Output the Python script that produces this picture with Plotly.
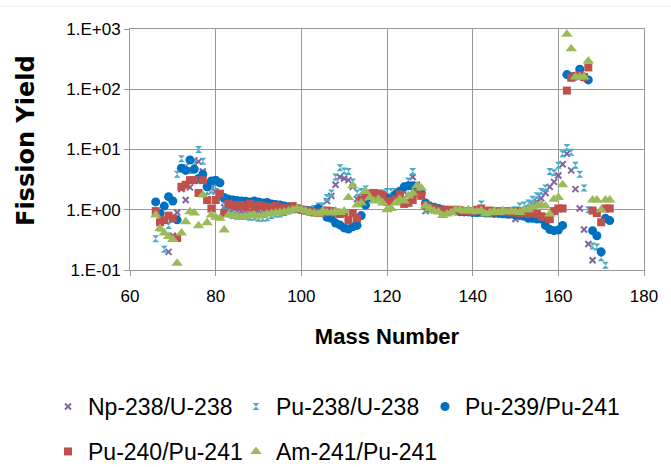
import plotly.graph_objects as go

# ---------------- data ----------------
mass_np = list(range(69, 169))
np238_u238 = [0.2, 0.37, 0.9, 2.2, 1.45, 2.35, 6.6, 6.3, 4.3, 2.8,
              2.3, 2.0, 1.5, 1.1, 1.0, 0.95, 0.95, 0.92, 0.95, 0.95,
              0.95, 0.97, 0.95, 0.97, 1.0, 1.0, 1.0, 1.0, 1.02, 1.05,
              1.02, 1.0, 0.98, 0.95, 0.93, 0.95, 1.0, 1.4, 1.7, 2.6,
              3.5, 3.3, 3.1, 2.4, 1.5, 1.6, 1.7, 1.7, 1.6, 1.6,
              1.7, 1.6, 1.6, 1.7, 1.8, 2.0, 2.5, 3.5, 2.6, 1.8,
              0.95, 1.0, 1.0, 0.98, 0.95, 0.95, 0.97, 0.97, 0.95, 0.95,
              0.93, 0.92, 0.92, 0.9, 0.9, 0.9, 0.88, 0.88, 0.85, 0.85,
              0.8, 0.7, 0.88, 0.95, 1.05, 1.2, 1.35, 1.55, 1.9, 2.4,
              2.9, 3.7, 5.7, 8.5, 4.5, 2.2, 1.05, 0.47, 0.27, 0.145]

mass_pu238 = list(range(66, 172))
pu238_u238 = [0.33, 0.5, 0.22, 0.55, 0.7, 3.9, 7.0, 5.0, 4.5, 6.0,
              10.0, 6.4, 2.0, 2.1, 2.4, 1.6, 1.2, 0.9, 0.8, 0.78,
              0.77, 0.78, 0.75, 0.76, 0.72, 0.72, 0.74, 0.8, 0.85, 0.85,
              0.9, 0.95, 1.0, 1.05, 1.0, 0.98, 1.0, 1.05, 1.15, 1.15,
              1.6, 1.9, 3.5, 5.0, 4.4, 4.3, 2.9, 1.9, 2.0, 2.2,
              1.9, 1.8, 1.8, 1.9, 2.0, 2.0, 2.0, 2.1, 2.3, 3.0,
              4.3, 2.3, 1.8, 1.0, 1.1, 1.05, 1.0, 0.95, 0.95, 1.0,
              1.0, 0.98, 0.97, 0.95, 0.95, 0.95, 1.25, 0.95, 0.93, 0.9,
              0.92, 0.9, 0.9, 0.95, 1.0, 1.15, 1.2, 1.3, 1.5, 1.7,
              2.0, 2.3, 4.3, 4.1, 5.5, 8.5, 10.8, 9.0, 5.5, 3.9,
              2.3, 1.0, 0.25, 0.24, 0.16, 0.12]

mass_pu = list(range(66, 173))
pu239_pu241 = [1.35, 0.87, 1.15, 1.65, 1.4, 0.68, 4.9, 4.5, 6.7, 4.7,
               3.3, 3.9, 2.4, 3.0, 3.1, 2.8, 1.6, 1.5, 1.45, 1.42,
               1.4, 1.38, 1.35, 1.4, 1.35, 1.3, 1.32, 1.25, 1.22, 1.2,
               1.15, 1.12, 1.1, 1.05, 1.0, 0.98, 0.95, 0.93, 1.05, 0.9,
               0.75, 0.72, 0.6, 0.56, 0.5, 0.48, 0.52, 0.55, 0.8, 1.2,
               1.6, 1.8, 1.75, 1.7, 1.55, 1.5, 1.8, 2.0, 2.4, 2.5,
               2.5, 2.2, 1.9, 1.3, 1.15, 1.1, 1.05, 1.0, 0.98, 0.96,
               0.95, 0.93, 0.92, 0.92, 0.9, 0.9, 0.9, 0.88, 0.88, 0.87,
               0.87, 0.86, 0.85, 0.85, 0.82, 0.8, 0.78, 0.72, 0.72, 0.7,
               0.7, 0.55, 0.47, 0.45, 0.46, 0.55, 175, 160, 165, 215,
               160, 143, 0.45, 0.37, 0.2, 0.72, 0.66]

pu240_pu241 = [0.95, 0.62, 0.67, 0.8, 0.72, 0.34, 2.4, 2.6, 3.1, 3.1,
               1.9, 3.1, 1.45, 1.05, 1.45, 1.85, 0.88, 1.25, 1.2, 1.15,
               1.2, 1.1, 1.25, 1.1, 1.2, 1.15, 1.1, 1.1, 1.15, 1.1,
               1.05, 1.05, 1.15, 1.05, 1.0, 0.97, 0.93, 0.9, 0.88, 0.9,
               0.97, 0.95, 0.9, 0.85, 0.88, 0.67, 0.88, 0.72, 1.45, 1.7,
               1.85, 1.9, 1.85, 1.75, 1.35, 1.4, 1.5, 1.8, 1.25, 1.3,
               1.45, 1.9, 1.7, 1.2, 1.1, 1.05, 1.0, 0.95, 1.0, 0.95,
               1.0, 0.98, 0.95, 0.95, 0.93, 1.0, 1.05, 0.95, 0.97, 0.9,
               0.95, 0.92, 0.95, 0.9, 0.95, 0.88, 0.93, 0.85, 0.88, 0.85,
               0.78, 0.75, 0.7, 0.95, 1.05, 1.05, 95, 155, 165, 170,
               160, 230, 0.97, 0.88, 0.62, 1.05, 1.05]

am241_pu241 = [0.82, 0.49, 0.41, 0.36, 0.32, 0.13, 0.41, 0.63, 0.93, 0.88,
               0.54, 1.75, 0.61, 0.82, 0.75, 0.72, 0.46, 0.82, 0.8, 0.78,
               0.75, 0.78, 0.8, 0.82, 0.78, 0.8, 0.85, 0.87, 0.88, 0.9,
               0.92, 0.95, 1.0, 1.05, 1.0, 0.95, 0.9, 0.88, 0.85, 0.95,
               0.9, 0.88, 0.95, 0.9, 0.95, 1.6, 2.5, 1.2, 1.3, 2.0,
               1.6, 1.4, 1.5, 1.3, 1.0, 1.05, 1.3, 1.5, 1.4, 1.7,
               1.9, 2.5, 2.3, 1.15, 1.05, 0.95, 0.92, 0.8, 0.85, 0.9,
               1.0, 1.0, 0.95, 1.0, 0.95, 0.93, 0.97, 0.85, 0.9, 0.95,
               0.9, 0.97, 0.92, 0.95, 0.93, 0.9, 1.0, 1.0, 1.1, 1.15,
               1.2, 1.15, 0.85, 1.5, 1.6, 2.6, 815, 470, 160, 160,
               160, 295, 1.45, 1.45, 1.0, 1.45, 1.45]

series_names = ["Np-238/U-238", "Pu-238/U-238", "Pu-239/Pu-241",
                "Pu-240/Pu-241", "Am-241/Pu-241"]
y_tick_vals = [0.1, 1, 10, 100, 1000]
y_tick_text = ["1.E-01", "1.E+00", "1.E+01", "1.E+02", "1.E+03"]
x_tick_vals = [60, 80, 100, 120, 140, 160, 180]

# ---------------- styles ----------------
PURPLE = "#8064A2"
CYAN = "#4BACC6"
BLUE = "#0070C0"
RED = "#C0504D"
GREEN = "#9BBB59"
GRID = "#999999"
SANS = "Liberation Sans, Arial, sans-serif"
LEG_FONT = dict(family=SANS, size=23, color="#000000")

L, R, T, B = 130, 27, 29, 197
W, H = 671, 467
PW = W - L - R
PH = H - T - B

# legend text start (px) and row top (px) for each series
leg_pos = [(88, 385), (276, 385), (465, 385), (88, 430), (276, 430)]
leg_ids = ["legend", "legend2", "legend3", "legend4", "legend5"]

styles = [
    dict(symbol="x-thin", size=6, color=PURPLE, line=dict(width=2, color=PURPLE)),
    dict(symbol="hourglass", size=7, color=CYAN, line=dict(width=0)),
    dict(symbol="circle", size=9, color=BLUE, line=dict(width=0)),
    dict(symbol="square", size=8, color=RED, line=dict(width=0)),
    dict(symbol="triangle-up", size=10, color=GREEN, line=dict(width=0)),
]
xs = [mass_np, mass_pu238, mass_pu, mass_pu, mass_pu]
ys = [np238_u238, pu238_u238, pu239_pu241, pu240_pu241, am241_pu241]

fig = go.Figure()
for i in range(5):
    fig.add_trace(go.Scatter(x=xs[i], y=ys[i], mode="markers", name=series_names[i],
                             marker=styles[i], legend=leg_ids[i]))

legend_layout = {}
for i in range(5):
    tx, ty = leg_pos[i]
    legend_layout[leg_ids[i]] = dict(
        orientation="h", x=(tx - 40 - L) / PW, xanchor="left",
        y=(270 - ty) / PH, yanchor="top", font=LEG_FONT,
        itemsizing="trace", bgcolor="rgba(0,0,0,0)")

fig.update_layout(
    width=W, height=H,
    margin=dict(l=L, r=R, t=T, b=B, autoexpand=False),
    paper_bgcolor="white", plot_bgcolor="white",
    showlegend=True,
    xaxis=dict(range=[60, 180], tickvals=x_tick_vals, showgrid=True,
               gridcolor=GRID, gridwidth=1, showline=True, linecolor=GRID,
               linewidth=1, mirror=True, ticks="outside", ticklen=5,
               tickcolor=GRID, ticklabelstandoff=6, zeroline=False,
               tickfont=dict(family=SANS, size=17, color="#000"),
               title=dict(text="<b>Mass Number</b>", standoff=23,
                          font=dict(family=SANS, size=22, color="#000"))),
    yaxis=dict(type="log", range=[-1, 3], tickvals=y_tick_vals, ticktext=y_tick_text,
               showgrid=True, gridcolor=GRID, gridwidth=1, showline=True,
               linecolor=GRID, linewidth=1, mirror=True, ticks="outside",
               ticklen=5, tickcolor=GRID, zeroline=False,
               tickfont=dict(family=SANS, size=17, color="#000")),
    **legend_layout,
)

# y-axis title placed as rotated annotation
fig.add_annotation(text="<b>Fission Yield</b>", textangle=-90, showarrow=False,
                   xref="paper", yref="paper",
                   x=(26 - L) / PW, y=(270 - 141) / PH,
                   xanchor="center", yanchor="middle",
                   font=dict(family="DejaVu Sans, sans-serif", size=24, color="#000"))

fig.add_shape(type="line", xref="paper", yref="paper",
              x0=-L / PW, x1=1 + R / PW, y0=1 + (T - 6) / PH, y1=1 + (T - 6) / PH,
              line=dict(color="#ececec", width=1))

fig.write_html("out.html")
